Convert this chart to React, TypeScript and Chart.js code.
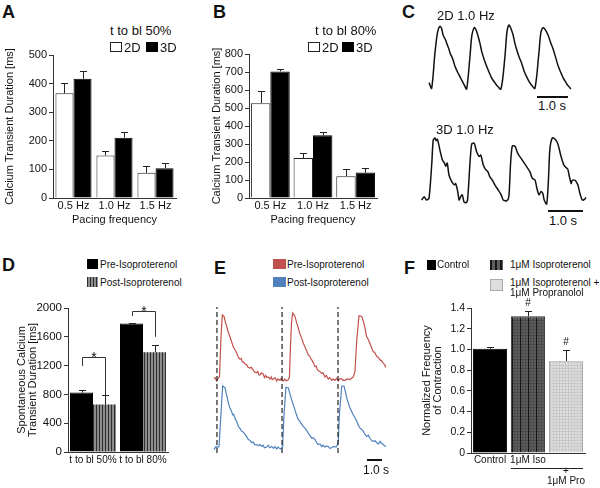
import React, { useEffect, useRef } from 'react';
import { Chart, registerables } from 'chart.js';

Chart.register(...registerables);

const FONT = '"Liberation Sans", Arial, Helvetica, sans-serif';
const INK = '#111';
const AX = '#333';
const RED = '#c0504d';
const BLUE = '#4f81bd';

// ---------- Panel A (t to bl 50%) ----------
const freqLabels = ['0.5 Hz', '1.0 Hz', '1.5 Hz'];
const a2D = [366, 149, 88];
const a2DErr = [37, 16, 23];
const a3D = [417, 211, 104];
const a3DErr = [28, 21, 19];
const aYMax = 500;
const aYStep = 100;

// ---------- Panel B (t to bl 80%) ----------
const b2D = [527, 222, 121];
const b2DErr = [70, 30, 40];
const b3D = [703, 348, 141];
const b3DErr = [14, 18, 25];
const bYMax = 800;
const bYStep = 100;

// ---------- Panel D ----------
const dLabels = ['t to bl 50%', 't to bl 80%'];
const dPre = [825, 1783];
const dPreErr = [42, 14];
const dPost = [658, 1385];
const dPostErr = [129, 106];
const dYMax = 2000;
const dYStep = 400;
const dBracketTop = [1320, 1960];
const dBracketLegEnds: [number, number][] = [[1195, 790], [1890, 1600]];

// ---------- Panel F ----------
const fLabels: (string | string[])[] = ['Control', '1μM Iso', ['', '+', '1μM Pro']];
const fValues = [1.006, 1.32, 0.887];
const fErr = [0.02, 0.05, 0.11];
const fMarks = ['', '#', '#'];
const fYMax = 1.4;
const fYStep = 0.2;

// ---------- Panel C traces: [time s, normalized signal] ----------
type Pair = [number, number];
const c2DTrace: Pair[] = [
  [0.0, 0.1], [0.08, 0.01], [0.18, 0.56], [0.26, 0.89], [0.33, 0.98], [0.38, 0.95], [0.43, 0.84],
  [0.5, 0.77], [0.54, 0.71], [0.6, 0.63], [0.64, 0.56], [0.72, 0.47], [0.79, 0.35], [0.86, 0.27],
  [0.94, 0.19], [1.0, 0.13], [1.07, 0.06], [1.14, 0.0], [1.24, 0.5], [1.3, 0.84], [1.37, 0.96],
  [1.42, 0.93], [1.48, 0.84], [1.55, 0.7], [1.6, 0.58], [1.68, 0.45], [1.75, 0.35], [1.83, 0.25],
  [1.9, 0.17], [1.98, 0.11], [2.05, 0.06], [2.18, 0.0], [2.3, 0.5], [2.36, 0.88], [2.42, 1.0],
  [2.48, 0.95], [2.55, 0.84], [2.6, 0.72], [2.66, 0.61], [2.73, 0.5], [2.81, 0.4], [2.88, 0.28],
  [2.96, 0.19], [3.03, 0.12], [3.11, 0.06], [3.21, 0.01], [3.33, 0.56], [3.39, 0.88], [3.46, 0.96],
  [3.53, 0.92], [3.61, 0.84], [3.69, 0.72], [3.77, 0.61], [3.85, 0.47], [3.92, 0.35], [4.0, 0.25],
  [4.07, 0.17], [4.14, 0.11], [4.2, 0.06], [4.3, 0.0],
];
const c3DTrace: Pair[] = [
  [0.0, 0.06], [0.07, 0.11], [0.14, 0.06], [0.21, 0.09], [0.29, 0.62], [0.33, 0.97], [0.38, 1.0],
  [0.41, 0.96], [0.45, 0.98], [0.52, 0.82], [0.59, 0.67], [0.65, 0.62], [0.69, 0.57], [0.73, 0.62],
  [0.78, 0.44], [0.86, 0.34], [0.93, 0.29], [0.97, 0.31], [1.03, 0.19], [1.07, 0.06], [1.11, 0.11],
  [1.16, 0.14], [1.21, 0.03], [1.26, 0.02], [1.31, 0.06], [1.38, 0.62], [1.43, 0.91], [1.5, 0.92],
  [1.57, 0.79], [1.64, 0.72], [1.69, 0.74], [1.76, 0.59], [1.83, 0.52], [1.89, 0.49], [1.95, 0.41],
  [2.02, 0.36], [2.09, 0.29], [2.19, 0.21], [2.27, 0.14], [2.33, 0.06], [2.43, 0.05], [2.49, 0.11],
  [2.54, 0.62], [2.59, 0.88], [2.67, 0.87], [2.74, 0.77], [2.84, 0.69], [2.93, 0.62], [3.03, 0.54],
  [3.09, 0.49], [3.16, 0.39], [3.24, 0.36], [3.29, 0.24], [3.35, 0.14], [3.41, 0.19], [3.46, 0.16],
  [3.5, 0.06], [3.57, 0.0], [3.62, 0.36], [3.66, 0.82], [3.73, 1.0], [3.81, 0.98], [3.89, 0.91],
  [3.98, 0.72], [4.07, 0.58], [4.17, 0.53], [4.22, 0.41], [4.27, 0.31], [4.3, 0.36], [4.38, 0.36],
  [4.46, 0.29], [4.52, 0.16], [4.59, 0.06], [4.65, 0.07], [4.69, 0.1],
];

// ---------- Panel E traces: [time s, normalized signal] ----------
const ePreTrace: Pair[] = [
  [-0.07, 0.04], [0.0, 0.05], [0.11, 0.0], [0.22, 0.04], [0.3, 0.07], [0.4, 0.65], [0.49, 0.97],
  [0.6, 0.95], [0.7, 0.86], [0.78, 0.8], [0.88, 0.72], [1.0, 0.65], [1.1, 0.58], [1.22, 0.5],
  [1.3, 0.47], [1.38, 0.44], [1.45, 0.41], [1.55, 0.35], [1.67, 0.32], [1.75, 0.33], [1.82, 0.28],
  [1.89, 0.28], [2.0, 0.25], [2.11, 0.24], [2.2, 0.2], [2.33, 0.19], [2.42, 0.2], [2.55, 0.16],
  [2.65, 0.13], [2.78, 0.12], [2.85, 0.14], [2.93, 0.09], [3.0, 0.09], [3.1, 0.12], [3.22, 0.1],
  [3.3, 0.05], [3.38, 0.08], [3.45, 0.05], [3.55, 0.06], [3.67, 0.03], [3.75, 0.06], [3.82, 0.02],
  [3.89, 0.03], [4.0, 0.05], [4.11, 0.0], [4.2, 0.03], [4.33, 0.01], [4.42, 0.04], [4.55, 0.0],
  [4.65, 0.03], [4.75, 0.0], [4.89, 0.02], [4.96, 0.05], [5.03, 0.5], [5.1, 0.85], [5.18, 1.0],
  [5.33, 0.95], [5.45, 0.85], [5.55, 0.78], [5.65, 0.7], [5.78, 0.63], [5.88, 0.56], [6.0, 0.5],
  [6.1, 0.45], [6.22, 0.38], [6.3, 0.37], [6.38, 0.33], [6.45, 0.31], [6.55, 0.27], [6.67, 0.21],
  [6.75, 0.22], [6.82, 0.17], [6.89, 0.15], [7.0, 0.14], [7.11, 0.11], [7.2, 0.12], [7.33, 0.06],
  [7.42, 0.08], [7.55, 0.03], [7.65, 0.05], [7.78, 0.01], [7.88, 0.03], [8.0, 0.01], [8.1, 0.04],
  [8.22, 0.0], [8.3, 0.03], [8.45, 0.03], [8.55, 0.01], [8.67, 0.01], [8.8, 0.03], [9.0, 0.02],
  [9.1, 0.04], [9.22, 0.06], [9.33, 0.14], [9.45, 0.6], [9.6, 0.96], [9.78, 0.95], [9.93, 0.85],
  [10.02, 0.75], [10.11, 0.65], [10.2, 0.62], [10.33, 0.55], [10.42, 0.5], [10.55, 0.43],
  [10.65, 0.42], [10.78, 0.36], [10.88, 0.35], [11.0, 0.31], [11.1, 0.3], [11.22, 0.26],
  [11.3, 0.24], [11.4, 0.2],
];
const ePostTrace: Pair[] = [
  [-0.07, -0.01], [0.07, 0.04], [0.15, 0.02], [0.27, 0.04], [0.38, 0.49], [0.51, 1.0], [0.67, 0.97],
  [0.75, 0.88], [0.82, 0.81], [0.9, 0.72], [1.0, 0.65], [1.1, 0.6], [1.18, 0.54], [1.25, 0.55],
  [1.33, 0.49], [1.45, 0.43], [1.55, 0.36], [1.65, 0.33], [1.78, 0.28], [1.88, 0.27], [2.0, 0.23],
  [2.1, 0.2], [2.22, 0.15], [2.32, 0.14], [2.45, 0.1], [2.55, 0.11], [2.65, 0.07], [2.78, 0.07],
  [2.9, 0.05], [3.0, 0.07], [3.11, 0.04], [3.2, 0.06], [3.3, 0.02], [3.45, 0.03], [3.55, 0.06],
  [3.65, 0.02], [3.78, 0.04], [3.9, 0.01], [4.0, 0.04], [4.11, 0.0], [4.2, 0.03], [4.3, 0.01],
  [4.38, 0.0], [4.47, 0.03], [4.51, 0.07], [4.6, 0.54], [4.73, 0.98], [4.89, 0.97], [5.0, 0.87],
  [5.11, 0.78], [5.22, 0.7], [5.33, 0.62], [5.45, 0.53], [5.55, 0.47], [5.65, 0.44], [5.78, 0.39],
  [5.88, 0.36], [6.0, 0.33], [6.1, 0.3], [6.22, 0.25], [6.32, 0.22], [6.45, 0.17], [6.55, 0.18],
  [6.67, 0.15], [6.78, 0.1], [6.89, 0.07], [7.0, 0.08], [7.11, 0.04], [7.2, 0.06], [7.33, 0.03],
  [7.45, 0.05], [7.55, 0.04], [7.65, 0.01], [7.78, 0.02], [7.9, 0.04], [8.07, 0.03], [8.15, 0.06],
  [8.22, 0.12], [8.29, 0.54], [8.45, 1.0], [8.6, 1.0], [8.7, 0.9], [8.78, 0.81], [8.9, 0.72],
  [9.0, 0.65], [9.1, 0.6], [9.22, 0.54], [9.33, 0.5], [9.45, 0.44], [9.55, 0.38], [9.67, 0.33],
  [9.78, 0.31], [9.89, 0.28], [10.0, 0.23], [10.11, 0.2], [10.22, 0.22], [10.33, 0.17],
  [10.45, 0.13], [10.55, 0.12], [10.67, 0.13], [10.78, 0.1], [10.9, 0.08], [11.0, 0.12],
  [11.1, 0.09], [11.22, 0.07], [11.3, 0.05], [11.4, 0.04],
];
const eMarkerTimes = [0.13, 4.47, 8.2];

const toXY = (p: Pair[]) => p.map(([x, y]) => ({ x, y }));

function makePattern(w: number, h: number, draw: (c: CanvasRenderingContext2D) => void) {
  const cv = document.createElement('canvas');
  cv.width = w;
  cv.height = h;
  const c = cv.getContext('2d')!;
  draw(c);
  return c.createPattern(cv, 'repeat')!;
}

const errorBars = {
  id: 'errorBars',
  afterDatasetsDraw(chart: any) {
    const ctx = chart.ctx;
    const ys = chart.scales.y;
    ctx.save();
    ctx.strokeStyle = '#222';
    ctx.lineWidth = 1;
    chart.data.datasets.forEach((ds: any, di: number) => {
      if (!ds.errors) return;
      const meta = chart.getDatasetMeta(di);
      meta.data.forEach((bar: any, i: number) => {
        const top = Math.round(ys.getPixelForValue(ds.data[i] + ds.errors[i])) + 0.5;
        const x = Math.round(bar.x) + 0.5;
        ctx.beginPath();
        ctx.moveTo(x, bar.y);
        ctx.lineTo(x, top);
        ctx.moveTo(x - 3.5, top);
        ctx.lineTo(x + 3.5, top);
        ctx.stroke();
      });
    });
    ctx.restore();
  },
};

const dBrackets = {
  id: 'dBrackets',
  afterDatasetsDraw(chart: any) {
    const ctx = chart.ctx;
    const ys = chart.scales.y;
    const m0 = chart.getDatasetMeta(0);
    const m1 = chart.getDatasetMeta(1);
    ctx.save();
    ctx.strokeStyle = '#333';
    ctx.lineWidth = 1;
    ctx.fillStyle = INK;
    ctx.font = `14px ${FONT}`;
    ctx.textAlign = 'center';
    ctx.textBaseline = 'alphabetic';
    dBracketTop.forEach((lvl, i) => {
      const x0 = Math.round(m0.data[i].x) + 0.5;
      const x1 = Math.round(m1.data[i].x) + 0.5;
      const yT = Math.round(ys.getPixelForValue(lvl)) + 0.5;
      const yL = ys.getPixelForValue(dBracketLegEnds[i][0]);
      const yR = ys.getPixelForValue(dBracketLegEnds[i][1]);
      ctx.beginPath();
      ctx.moveTo(x0, yL);
      ctx.lineTo(x0, yT);
      ctx.lineTo(x1, yT);
      ctx.lineTo(x1, yR);
      ctx.stroke();
      ctx.fillText('*', (x0 + x1) / 2, yT + 4);
    });
    ctx.restore();
  },
};

const fExtras = {
  id: 'fExtras',
  afterDraw(chart: any) {
    const ctx = chart.ctx;
    const ys = chart.scales.y;
    const meta = chart.getDatasetMeta(0);
    ctx.save();
    ctx.fillStyle = INK;
    ctx.font = `10px ${FONT}`;
    ctx.textAlign = 'center';
    ctx.textBaseline = 'alphabetic';
    fMarks.forEach((m, i) => {
      if (!m) return;
      const top = ys.getPixelForValue(fValues[i] + fErr[i]);
      ctx.fillText(m, meta.data[i].x, top - 5);
    });
    const b1: any = meta.data[1];
    const b2: any = meta.data[2];
    const y = Math.round(chart.chartArea.bottom + 15) + 0.5;
    ctx.strokeStyle = '#222';
    ctx.lineWidth = 1;
    ctx.beginPath();
    ctx.moveTo(b1.x - b1.width / 2, y);
    ctx.lineTo(b2.x + b2.width / 2, y);
    ctx.stroke();
    ctx.restore();
  },
};

interface BarOpts {
  labels: any[];
  datasets: any[];
  yMax: number;
  yStep: number;
  yWidth: number;
  xHeight: number;
  padding: { top: number; right: number; left: number; bottom: number };
  yTitle: string | string[];
  yTitleSize: number;
  yTitleLH: number;
  yTitlePad: number;
  tickSize: number;
  xTickSize: number;
  xTickPad: number;
  xTitle?: string;
  fmt?: (v: number) => string;
  plugins?: any[];
}

function barChart(canvas: HTMLCanvasElement, o: BarOpts) {
  return new Chart(canvas, {
    type: 'bar',
    data: { labels: o.labels, datasets: o.datasets },
    options: {
      responsive: false,
      animation: false,
      layout: { padding: o.padding },
      plugins: { legend: { display: false }, tooltip: { enabled: false } },
      scales: {
        x: {
          ticks: {
            font: { family: FONT, size: o.xTickSize, lineHeight: 1.05 },
            color: INK,
            padding: o.xTickPad,
            autoSkip: false,
            maxRotation: 0,
          },
          grid: { display: false, drawTicks: false, tickLength: 0 },
          border: { display: true, color: AX, width: 1 },
          title: o.xTitle
            ? {
                display: true,
                text: o.xTitle,
                color: INK,
                font: { family: FONT, size: 11 },
                padding: { top: 0, bottom: 3 },
              }
            : { display: false },
          afterFit: (s: any) => {
            s.height = o.xHeight;
            s.paddingLeft = 0;
            s.paddingRight = 0;
          },
        } as any,
        y: {
          min: 0,
          max: o.yMax,
          ticks: {
            stepSize: o.yStep,
            font: { family: FONT, size: o.tickSize },
            color: INK,
            padding: 2,
            callback: (v: any) => (o.fmt ? o.fmt(Number(v)) : String(v)),
          },
          grid: { display: true, drawOnChartArea: false, drawTicks: true, tickLength: 4, color: AX },
          border: { display: true, color: AX, width: 1 },
          title: {
            display: true,
            text: o.yTitle,
            color: INK,
            font: { family: FONT, size: o.yTitleSize, lineHeight: o.yTitleLH },
            padding: { top: o.yTitlePad, bottom: 0 },
          },
          afterFit: (s: any) => {
            s.width = o.yWidth;
            s.paddingTop = 0;
            s.paddingBottom = 0;
          },
        } as any,
      },
    },
    plugins: [errorBars, ...(o.plugins || [])],
  });
}

function traceChart(
  canvas: HTMLCanvasElement,
  datasets: any[],
  xMin: number,
  xMax: number,
  yAxes: Record<string, [number, number]>,
) {
  const scales: any = { x: { type: 'linear', display: false, min: xMin, max: xMax } };
  Object.keys(yAxes).forEach((k) => {
    scales[k] = { type: 'linear', display: false, min: yAxes[k][0], max: yAxes[k][1] };
  });
  return new Chart(canvas, {
    type: 'line',
    data: { datasets },
    options: {
      responsive: false,
      animation: false,
      layout: { padding: 0 },
      plugins: { legend: { display: false }, tooltip: { enabled: false } },
      scales,
    },
  });
}

const Txt = (p: {
  x: number;
  y: number;
  size: number;
  bold?: boolean;
  center?: boolean;
  children: React.ReactNode;
}) => (
  <div
    style={{
      position: 'absolute',
      left: p.x,
      top: p.y,
      fontSize: p.size,
      fontWeight: p.bold ? 'bold' : 'normal',
      lineHeight: 1,
      whiteSpace: 'nowrap',
      transform: p.center ? 'translate(-50%, -50%)' : 'translateY(-50%)',
    }}
  >
    {p.children}
  </div>
);

const Box = (p: { x: number; y: number; w: number; h: number; bg: string; border?: string }) => (
  <div
    style={{
      position: 'absolute',
      left: p.x,
      top: p.y,
      width: p.w,
      height: p.h,
      background: p.bg,
      border: p.border || 'none',
      boxSizing: 'border-box',
    }}
  />
);

const Cv = (p: { r: React.RefObject<HTMLCanvasElement>; x: number; y: number; w: number; h: number }) => (
  <canvas
    ref={p.r}
    width={p.w}
    height={p.h}
    style={{ position: 'absolute', left: p.x, top: p.y, width: p.w, height: p.h }}
  />
);

export default function App() {
  const rA = useRef<HTMLCanvasElement>(null);
  const rB = useRef<HTMLCanvasElement>(null);
  const rC1 = useRef<HTMLCanvasElement>(null);
  const rC2 = useRef<HTMLCanvasElement>(null);
  const rD = useRef<HTMLCanvasElement>(null);
  const rE = useRef<HTMLCanvasElement>(null);
  const rF = useRef<HTMLCanvasElement>(null);

  useEffect(() => {
    const charts: Chart[] = [];

    const stripeD = makePattern(3, 1, (c) => {
      c.fillStyle = '#8c8c8c';
      c.fillRect(0, 0, 3, 1);
      c.fillStyle = '#2e2e2e';
      c.fillRect(0, 0, 1, 1);
    });
    const isoPat = makePattern(8, 3, (c) => {
      c.fillStyle = '#5e5e5e';
      c.fillRect(0, 0, 8, 3);
      c.fillStyle = '#4c4c4c';
      c.fillRect(0, 0, 8, 1);
      c.fillRect(2, 0, 1, 3);
      c.fillRect(5, 0, 1, 3);
      c.fillStyle = '#161616';
      c.fillRect(0, 0, 1, 3);
    });
    const proPat = makePattern(3, 3, (c) => {
      c.fillStyle = '#dedede';
      c.fillRect(0, 0, 3, 3);
      c.fillStyle = '#c9c9c9';
      c.fillRect(0, 0, 3, 1);
      c.fillRect(0, 0, 1, 3);
    });

    const whiteBar = { backgroundColor: '#fff', borderColor: '#222', borderWidth: 1 };
    const blackBar = { backgroundColor: '#000', borderColor: '#000', borderWidth: 1 };

    charts.push(
      barChart(rA.current!, {
        labels: freqLabels,
        datasets: [
          { label: '2D', data: a2D, errors: a2DErr, ...whiteBar, categoryPercentage: 0.88, barPercentage: 1 },
          { label: '3D', data: a3D, errors: a3DErr, ...blackBar, categoryPercentage: 0.88, barPercentage: 1 },
        ],
        yMax: aYMax,
        yStep: aYStep,
        yWidth: 53,
        xHeight: 32,
        padding: { top: 15, right: 9, left: 0, bottom: 0 },
        yTitle: 'Calcium Transient Duration [ms]',
        yTitleSize: 11,
        yTitleLH: 1.2,
        yTitlePad: 3,
        tickSize: 11,
        xTickSize: 11,
        xTickPad: 2,
        xTitle: 'Pacing frequency',
      }),
    );

    charts.push(
      barChart(rB.current!, {
        labels: freqLabels,
        datasets: [
          { label: '2D', data: b2D, errors: b2DErr, ...whiteBar, categoryPercentage: 0.91, barPercentage: 1 },
          { label: '3D', data: b3D, errors: b3DErr, ...blackBar, categoryPercentage: 0.91, barPercentage: 1 },
        ],
        yMax: bYMax,
        yStep: bYStep,
        yWidth: 54,
        xHeight: 32,
        padding: { top: 14, right: 3, left: 0, bottom: 0 },
        yTitle: 'Calcium Transient Duration [ms]',
        yTitleSize: 11,
        yTitleLH: 1.2,
        yTitlePad: 15,
        tickSize: 11,
        xTickSize: 11,
        xTickPad: 2,
        xTitle: 'Pacing frequency',
      }),
    );

    charts.push(
      barChart(rD.current!, {
        labels: dLabels,
        datasets: [
          {
            label: 'Pre-Isoproterenol',
            data: dPre,
            errors: dPreErr,
            ...blackBar,
            categoryPercentage: 0.92,
            barPercentage: 1,
          },
          {
            label: 'Post-Isoproterenol',
            data: dPost,
            errors: dPostErr,
            backgroundColor: stripeD,
            borderColor: '#555',
            borderWidth: 0,
            categoryPercentage: 0.92,
            barPercentage: 1,
          },
        ],
        yMax: dYMax,
        yStep: dYStep,
        yWidth: 68,
        xHeight: 23,
        padding: { top: 18, right: 7, left: 0, bottom: 0 },
        yTitle: ['Spontaneous Calcium', 'Transient Duration [ms]'],
        yTitleSize: 11,
        yTitleLH: 1.0,
        yTitlePad: 16,
        tickSize: 11.5,
        xTickSize: 10,
        xTickPad: 3,
        plugins: [dBrackets],
      }),
    );

    charts.push(
      barChart(rF.current!, {
        labels: fLabels,
        datasets: [
          {
            label: 'Frequency',
            data: fValues,
            errors: fErr,
            backgroundColor: ['#000', isoPat, proPat],
            borderColor: ['#000', '#333', '#9a9a9a'],
            borderWidth: 1,
            categoryPercentage: 1,
            barPercentage: 0.9,
          },
        ],
        yMax: fYMax,
        yStep: fYStep,
        yWidth: 71,
        xHeight: 35,
        padding: { top: 18, right: 10, left: 0, bottom: 0 },
        yTitle: ['Normalized Frequency', 'of Contraction'],
        yTitleSize: 11,
        yTitleLH: 1.0,
        yTitlePad: 21,
        tickSize: 10.5,
        xTickSize: 10,
        xTickPad: 2,
        fmt: (v) => (v === 0 ? '0' : v.toFixed(1)),
        plugins: [fExtras],
      }),
    );

    const traceStyle = (color: string, w: number, tension: number) => ({
      borderColor: color,
      borderWidth: w,
      pointRadius: 0,
      tension,
      fill: false,
      clip: false,
    });

    charts.push(
      traceChart(
        rC1.current!,
        [{ data: toXY(c2DTrace), ...traceStyle('#111', 1.5, 0.3) }],
        -0.424,
        5.03,
        { y: [-0.094, 1.078] },
      ),
    );
    charts.push(
      traceChart(
        rC2.current!,
        [{ data: toXY(c3DTrace), ...traceStyle('#111', 1.5, 0.25) }],
        -0.19,
        4.95,
        { y: [-0.09, 1.12] },
      ),
    );

    const markerSets = eMarkerTimes.map((t) => ({
      data: [
        { x: t, y: -1.059 },
        { x: t, y: 1.088 },
      ],
      yAxisID: 'yPre',
      borderColor: '#222',
      borderWidth: 1.2,
      borderDash: [5, 3],
      pointRadius: 0,
      clip: false,
    }));
    charts.push(
      traceChart(
        rE.current!,
        [
          ...markerSets,
          { data: toXY(ePreTrace), yAxisID: 'yPre', ...traceStyle(RED, 1.2, 0) },
          { data: toXY(ePostTrace), yAxisID: 'yPost', ...traceStyle(BLUE, 1.2, 0) },
        ],
        -0.667,
        12.0,
        { yPre: [-1.162, 1.191], yPost: [-0.175, 2.365] },
      ),
    );

    return () => charts.forEach((c) => c.destroy());
  }, []);

  return (
    <div
      style={{
        position: 'fixed',
        left: 0,
        top: 0,
        width: 600,
        height: 488,
        background: '#fff',
        overflow: 'hidden',
        fontFamily: FONT,
        color: INK,
      }}
    >
      <Cv r={rA} x={0} y={40} w={185} h={190} />
      <Cv r={rB} x={195} y={40} w={185} h={190} />
      <Cv r={rC1} x={415} y={20} w={180} h={75} />
      <Cv r={rC2} x={415} y={130} w={180} h={80} />
      <Cv r={rD} x={0} y={290} w={175} h={185} />
      <Cv r={rE} x={205} y={300} w={190} h={160} />
      <Cv r={rF} x={400} y={290} w={195} h={198} />

      {/* Panel letters */}
      <Txt x={2} y={11.5} size={18} bold>A</Txt>
      <Txt x={213} y={11.5} size={18} bold>B</Txt>
      <Txt x={402} y={11.5} size={18} bold>C</Txt>
      <Txt x={2} y={265} size={18} bold>D</Txt>
      <Txt x={214} y={268} size={18} bold>E</Txt>
      <Txt x={404} y={267.5} size={18} bold>F</Txt>

      {/* A legend */}
      <Txt x={110} y={29.5} size={13}>t to bl 50%</Txt>
      <Box x={110} y={42} w={12} h={10} bg="#fff" border="1px solid #222" />
      <Txt x={124} y={47} size={13}>2D</Txt>
      <Box x={146} y={42} w={12} h={10} bg="#000" />
      <Txt x={160} y={47} size={13}>3D</Txt>

      {/* B legend */}
      <Txt x={315} y={29.5} size={13}>t to bl 80%</Txt>
      <Box x={308} y={42} w={12} h={10} bg="#fff" border="1px solid #222" />
      <Txt x={322} y={47} size={13}>2D</Txt>
      <Box x={342} y={42} w={12} h={10} bg="#000" />
      <Txt x={356} y={47} size={13}>3D</Txt>

      {/* C labels and scale bars */}
      <Txt x={437} y={14.5} size={13}>2D 1.0 Hz</Txt>
      <Box x={537} y={96} w={31} h={1.5} bg="#111" />
      <Txt x={552} y={104.5} size={13} center>1.0 s</Txt>
      <Txt x={436} y={128.5} size={13}>3D 1.0 Hz</Txt>
      <Box x={548} y={210} w={35} h={1.5} bg="#111" />
      <Txt x={563} y={219.5} size={13} center>1.0 s</Txt>

      {/* D legend */}
      <Box x={87} y={259} w={11} h={10} bg="#000" />
      <Txt x={100} y={264.5} size={10}>Pre-Isoproterenol</Txt>
      <Box
        x={87}
        y={277}
        w={11}
        h={10}
        bg="repeating-linear-gradient(90deg, #2e2e2e 0px 1px, #8c8c8c 1px 3px)"
      />
      <Txt x={100} y={282.5} size={10}>Post-Isoproterenol</Txt>

      {/* E legend and scale bar */}
      <Box x={273} y={259} w={13} h={10} bg={RED} />
      <Txt x={287} y={264.5} size={10}>Pre-Isoproterenol</Txt>
      <Box x={273} y={277} w={13} h={10} bg={BLUE} />
      <Txt x={287} y={282.5} size={10}>Post-Isoproterenol</Txt>
      <Box x={367} y={459} w={15} h={1.5} bg="#111" />
      <Txt x={376} y={469.5} size={12} center>1.0 s</Txt>

      {/* F legend */}
      <Box x={427} y={260} w={9} h={10} bg="#000" />
      <Txt x={437} y={265} size={10}>Control</Txt>
      <Box
        x={490}
        y={260}
        w={13}
        h={10}
        bg="repeating-linear-gradient(90deg, #161616 0px 1.5px, #5e5e5e 1.5px 5px)"
      />
      <Txt x={510} y={265} size={10}>1μM Isoproterenol</Txt>
      <Box x={490} y={279} w={13} h={12} bg="#dedede" border="1px solid #aaa" />
      <Txt x={510} y={283} size={10}>1μM Isoproterenol +</Txt>
      <Txt x={510} y={293} size={10}>1μM Propranolol</Txt>
    </div>
  );
}
